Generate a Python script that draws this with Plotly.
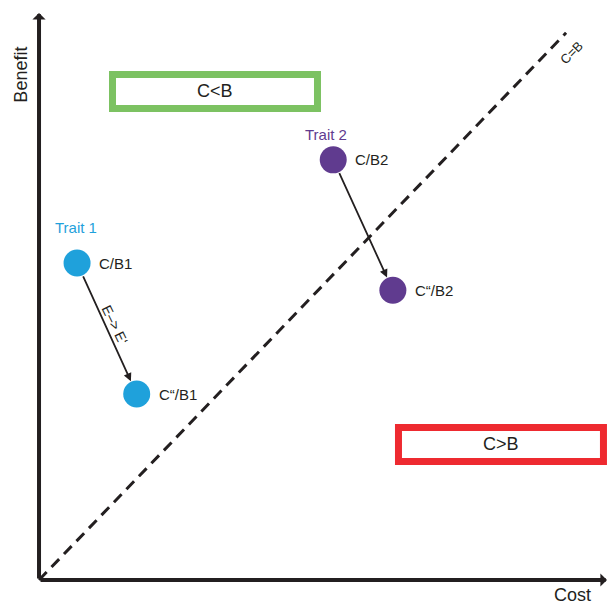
import plotly.graph_objects as go

# ---- data (cost, benefit) in arbitrary units ----
trait1_cost = [0.67, 1.72]
trait1_benefit = [5.59, 3.28]
trait1_labels = ["C/B1", "C\u201c/B1"]

trait2_cost = [5.18, 6.23]
trait2_benefit = [7.41, 5.11]
trait2_labels = ["C/B2", "C\u201c/B2"]

equal_line_cost = [0.0, 9.28]
equal_line_benefit = [0.0, 9.65]

axis_max_cost = 10.0
axis_max_benefit = 10.0

box_cb_less = dict(x0=1.294, x1=4.903, y0=8.316, y1=8.915, text="C<B")
box_cb_more = dict(x0=6.329, x1=9.938, y0=2.090, y1=2.690, text="C>B")

BLUE = "#1fa1db"
PURPLE = "#603b8f"
GREEN = "#7cc262"
RED = "#ee2a30"
INK = "#231f20"
FONT = "Liberation Sans, Arial, sans-serif"

fig = go.Figure()

# dashed C=B line
fig.add_trace(go.Scatter(x=equal_line_cost, y=equal_line_benefit, mode="lines",
                         line=dict(color=INK, width=3, dash="11px,7px"),
                         hoverinfo="skip", showlegend=False))

# points
fig.add_trace(go.Scatter(x=trait1_cost, y=trait1_benefit, mode="markers",
                         marker=dict(size=27, color=BLUE, line=dict(width=0)),
                         showlegend=False))
fig.add_trace(go.Scatter(x=trait2_cost, y=trait2_benefit, mode="markers",
                         marker=dict(size=27, color=PURPLE, line=dict(width=0)),
                         showlegend=False))

ann = []
# axes with arrowheads
ann.append(dict(x=axis_max_cost, y=0, ax=0, ay=0, xref="x", yref="y", axref="x", ayref="y",
                showarrow=True, arrowhead=1, arrowsize=0.55, arrowwidth=4, arrowcolor=INK, text=""))
ann.append(dict(x=0, y=axis_max_benefit, ax=0, ay=0, xref="x", yref="y", axref="x", ayref="y",
                showarrow=True, arrowhead=1, arrowsize=0.55, arrowwidth=4, arrowcolor=INK, text=""))

# arrows between points
for cs, bs in [(trait1_cost, trait1_benefit), (trait2_cost, trait2_benefit)]:
    ann.append(dict(x=cs[1], y=bs[1], ax=cs[0], ay=bs[0], xref="x", yref="y", axref="x", ayref="y",
                    showarrow=True, arrowhead=2, arrowsize=0.9, arrowwidth=1.8, arrowcolor=INK,
                    standoff=14, startstandoff=13, text=""))

# point labels
for cs, bs, labs in [(trait1_cost, trait1_benefit, trait1_labels), (trait2_cost, trait2_benefit, trait2_labels)]:
    for c, b, t in zip(cs, bs, labs):
        ann.append(dict(x=c, y=b, xref="x", yref="y", text=t, showarrow=False,
                        xanchor="left", yanchor="middle", xshift=20,
                        font=dict(family=FONT, size=15, color=INK)))

ann.append(dict(x=trait1_cost[0], y=trait1_benefit[0], xref="x", yref="y", text="Trait 1", showarrow=False,
                yshift=36, xshift=-1, font=dict(family=FONT, size=15, color=BLUE)))
ann.append(dict(x=trait2_cost[0], y=trait2_benefit[0], xref="x", yref="y", text="Trait 2", showarrow=False,
                yshift=25, xshift=-7, font=dict(family=FONT, size=15, color=PURPLE)))

ann.append(dict(x=1.338, y=4.497, xref="x", yref="y", text="E\u2013> E\u2018", showarrow=False,
                textangle=64, font=dict(family=FONT, size=14, color=INK)))
ann.append(dict(x=9.384, y=9.295, xref="x", yref="y", text="C=B", showarrow=False,
                textangle=-46, font=dict(family=FONT, size=13, color=INK)))

# boxes
shapes = []
for bx, col in [(box_cb_less, GREEN), (box_cb_more, RED)]:
    shapes.append(dict(type="rect", xref="x", yref="y", x0=bx["x0"], x1=bx["x1"], y0=bx["y0"], y1=bx["y1"],
                       line=dict(color=col, width=7), fillcolor="white", layer="above"))
    ann.append(dict(x=(bx["x0"] + bx["x1"]) / 2, y=(bx["y0"] + bx["y1"]) / 2, xref="x", yref="y",
                    text=bx["text"], showarrow=False, font=dict(family=FONT, size=18, color=INK)))

# axis titles
ann.append(dict(x=9.39, y=-0.27, xref="x", yref="y", text="Cost", showarrow=False,
                font=dict(family=FONT, size=18, color=INK)))
ann.append(dict(x=-0.32, y=8.91, xref="x", yref="y", text="Benefit", showarrow=False, textangle=-90,
                font=dict(family=FONT, size=18, color=INK)))

fig.update_layout(
    width=608, height=606,
    margin=dict(l=0, r=0, t=0, b=0),
    paper_bgcolor="white", plot_bgcolor="white",
    xaxis=dict(range=[-0.687, 10.018], visible=False, fixedrange=True),
    yaxis=dict(range=[-0.459, 10.229], visible=False, fixedrange=True),
    annotations=ann, shapes=shapes,
    showlegend=False,
)

fig.write_html("out.html", config={"displayModeBar": False},
               post_script="document.body.style.margin='0';document.body.style.overflow='hidden';")
